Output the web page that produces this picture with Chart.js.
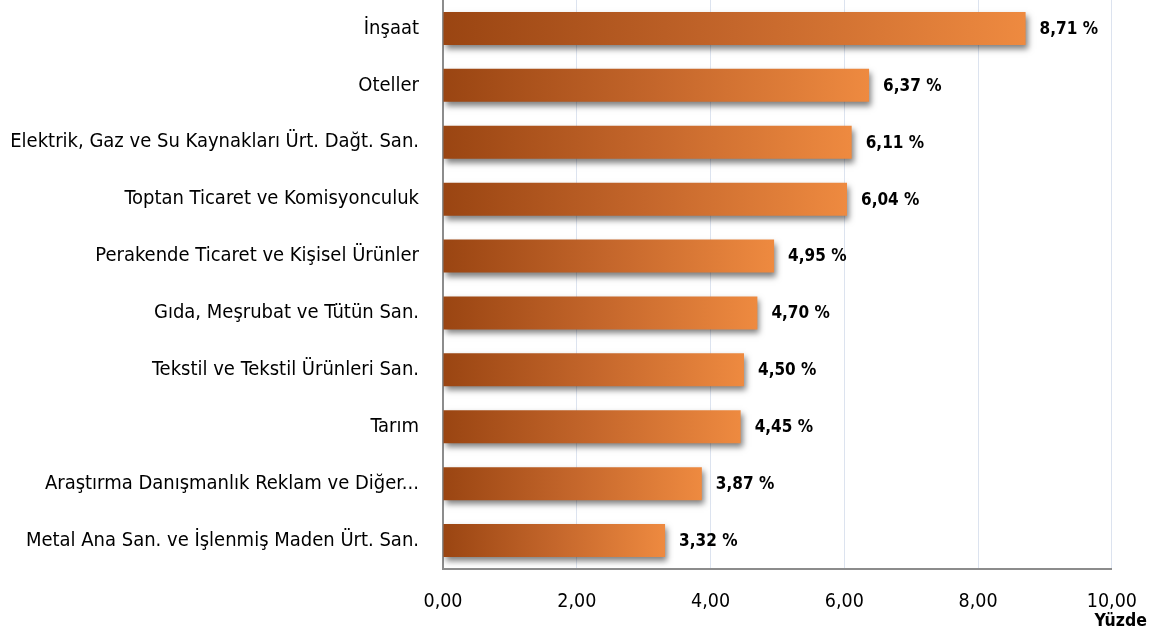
<!DOCTYPE html>
<html><head><meta charset="utf-8">
<script src="https://cdn.jsdelivr.net/npm/chart.js@4"></script>
<style>html,body{margin:0;padding:0;background:#fff}#wrap{width:1158px;height:637px}</style>
</head><body><div id="wrap"><canvas id="c" width="1158" height="637"></canvas></div>
<script>
const categories = ["İnşaat","Oteller","Elektrik, Gaz ve Su Kaynakları Ürt. Dağt. San.","Toptan Ticaret ve Komisyonculuk","Perakende Ticaret ve Kişisel Ürünler","Gıda, Meşrubat ve Tütün San.","Tekstil ve Tekstil Ürünleri San.","Tarım","Araştırma Danışmanlık Reklam ve Diğer...","Metal Ana San. ve İşlenmiş Maden Ürt. San."];
const values = [8.71,6.37,6.11,6.04,4.95,4.70,4.50,4.45,3.87,3.32];
const valueLabels = ["8,71 %","6,37 %","6,11 %","6,04 %","4,95 %","4,70 %","4,50 %","4,45 %","3,87 %","3,32 %"];
const tickLabels = ["0,00","2,00","4,00","6,00","8,00","10,00"];
const axisTitle = "Yüzde";

const FONT = "'DejaVu Sans Condensed',sans-serif";
function grad(ctx){
  const chart = ctx.chart; const ca = chart.chartArea;
  if(!ca || ctx.dataIndex===undefined) return '#C8672A';
  const xs = chart.scales.x;
  const x0 = xs.getPixelForValue(0), x1 = xs.getPixelForValue(values[ctx.dataIndex]);
  const g = chart.ctx.createLinearGradient(x0,0,x1,0);
  g.addColorStop(0,'#9A4512');
  g.addColorStop(0.5,'#C4662B');
  g.addColorStop(1,'#EE8A40');
  return g;
}
const shadowPlugin = {
  id:'shadow',
  beforeDatasetDraw(chart){ const c=chart.ctx; c.save(); c.shadowColor='rgba(0,0,0,0.5)'; c.shadowBlur=6; c.shadowOffsetX=2; c.shadowOffsetY=4; },
  afterDatasetDraw(chart){ chart.ctx.restore(); }
};
const labelPlugin = {
  id:'vals',
  afterDatasetsDraw(chart){
    const c=chart.ctx; const meta=chart.getDatasetMeta(0);
    c.save(); c.font="bold 17px "+FONT; c.fillStyle='#000'; c.textBaseline='middle'; c.textAlign='left';
    meta.data.forEach((el,i)=>{ c.fillText(valueLabels[i], el.x+14, el.y+1); });
    const xs=chart.scales.x;
    c.font="bold 17.5px "+FONT;
    c.textAlign='right'; c.fillText(axisTitle, xs.getPixelForValue(10)+35, 621);
    c.restore();
  }
};
new Chart(document.getElementById('c'),{
  type:'bar',
  data:{labels:categories,datasets:[{data:values,backgroundColor:grad,borderWidth:0,barPercentage:0.58,categoryPercentage:1}]},
  options:{
    indexAxis:'y',responsive:false,animation:false,
    layout:{padding:{top:0,right:46,left:0,bottom:0}},
    plugins:{legend:{display:false},tooltip:{enabled:false}},
    scales:{
      x:{min:0,max:10,
        ticks:{stepSize:2,padding:21,color:'#000',font:{family:FONT,size:19.5},callback:(v,i)=>tickLabels[i]},
        grid:{color:'#DCE3EF',drawTicks:false},
        border:{color:'#8C8C8C',width:2},
        afterFit(s){s.height=68;}
      },
      y:{
        ticks:{padding:24,color:'#000',font:{family:FONT,size:20}},
        grid:{display:false,drawTicks:false},
        border:{color:'#8C8C8C',width:2},
        afterFit(s){s.width=443;s.paddingTop=0;s.paddingBottom=0;}
      }
    }
  },
  plugins:[shadowPlugin,labelPlugin]
});
</script></body></html>
